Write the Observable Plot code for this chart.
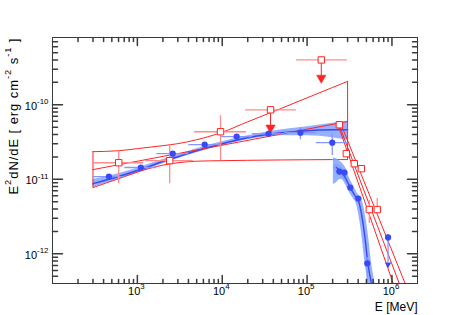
<!DOCTYPE html>
<html><head><meta charset="utf-8">
<script src="https://cdn.jsdelivr.net/npm/d3@7"></script>
<script src="https://cdn.jsdelivr.net/npm/@observablehq/plot@0.6"></script>
<style>html,body{margin:0;padding:0;background:#fff}svg{display:block}</style>
</head><body><div id="chart"></div>
<script>
// ---- Red power-law butterfly (300 MeV - 300 GeV) ----
const bfE = [300, 600, 1000, 2000, 3000, 5000, 1e4, 2e4, 5e4, 1e5, 2e5, 3e5];
const redBfUpper = [2.35e-11, 2.42e-11, 2.58e-11, 2.83e-11, 3.01e-11, 3.40e-11, 4.28e-11, 5.92e-11, 8.98e-11, 1.24e-10, 1.71e-10, 2.06e-10];
const redBfLower = [7.74e-12, 1.02e-11, 1.25e-11, 1.55e-11, 1.67e-11, 1.75e-11, 1.78e-11, 1.80e-11, 1.82e-11, 1.83e-11, 1.84e-11, 1.84e-11];
const redFitE = [300, 3e5];
const redFitF = [1.35e-11, 5.97e-11];
// ---- Blue curved band (same energy range) ----
const blueBfCenter = [8.75e-12, 1.09e-11, 1.31e-11, 1.73e-11, 2.01e-11, 2.42e-11, 3.01e-11, 3.62e-11, 4.22e-11, 4.49e-11, 4.63e-11, 4.63e-11];
const blueBfUpper = [9.91e-12, 1.19e-11, 1.41e-11, 1.84e-11, 2.14e-11, 2.58e-11, 3.20e-11, 3.85e-11, 4.63e-11, 5.07e-11, 5.65e-11, 6.01e-11];
const blueBfLower = [7.74e-12, 9.91e-12, 1.21e-11, 1.62e-11, 1.89e-11, 2.28e-11, 2.83e-11, 3.40e-11, 3.85e-11, 3.85e-11, 3.62e-11, 3.35e-11];
// ---- Red steep high-energy power laws ----
const redHeStartE = [2.27e5, 2.33e5, 2.47e5];
const redHeEndE = [1.035e6, 1.22e6, 1.43e6];
const redHeStartF = 5.74e-11;
const redHeEndF = 4e-13;
// ---- Blue high-energy cutoff curve ----
const blueCutE = [2.21e5, 2.47e5, 2.82e5, 3.23e5, 3.60e5, 4.01e5, 4.47e5, 4.85e5, 5.12e5, 5.41e5, 5.71e5, 5.86e5];
const blueCutF = [1.44e-11, 1.31e-11, 1.05e-11, 7.74e-12, 6.24e-12, 5.19e-12, 2.98e-12, 1.51e-12, 8.67e-13, 5.64e-13, 4.02e-13, 3.04e-13];
const blueHornE = [2.04e5, 2.21e5, 2.47e5, 2.75e5, 3.06e5];
const blueHornUpper = [1.95e-11, 1.89e-11, 1.73e-11, 1.52e-11, 1.23e-11];
const blueHornLower = [8.49e-12, 9.03e-12, 9.91e-12, 9.61e-12, 7.98e-12];
// ---- Blue points (low energy) ----
const latE = [462, 1100, 2610, 6210, 14800, 35100, 83400, 198000];
const latElo = [300, 713, 1694, 4030, 9580, 22760, 54100, 128600];
const latEhi = [713, 1694, 4030, 9580, 22760, 54100, 128600, 305700];
const latF = [1.09e-11, 1.44e-11, 2.21e-11, 2.92e-11, 3.73e-11, 4.09e-11, 4.22e-11, 3.10e-11];
const latFlo = [1.02e-11, 1.35e-11, 2.08e-11, 2.74e-11, 3.51e-11, 3.73e-11, 3.40e-11, 2.08e-11];
const latFhi = [1.16e-11, 1.52e-11, 2.35e-11, 3.10e-11, 3.96e-11, 4.49e-11, 4.92e-11, 4.09e-11];
// ---- Blue points (high energy) ----
const heE = [2.40e5, 2.75e5, 3.23e5, 4.01e5, 5.12e5, 9.0e5];
const heElo = [2.40e5, 2.75e5, 3.23e5, 3.60e5, 5.12e5, 9.0e5];
const heEhi = [2.40e5, 2.75e5, 3.23e5, 4.47e5, 5.12e5, 9.0e5];
const heF = [1.27e-11, 1.23e-11, 7.74e-12, 5.52e-12, 7.43e-13, 1.66e-12];
const heFlo = [1.19e-11, 1.16e-11, 7.28e-12, 5.19e-12, 3.0e-13, 7.67e-13];
const heFhi = [1.35e-11, 1.31e-11, 8.24e-12, 5.86e-12, 8.95e-13, 1.82e-12];
const heUlE = [9.0e5];
const heUlF = [7.21e-13];
// ---- Red squares ----
const redE = [603, 2404, 9550, 2.40e5, 2.90e5, 3.60e5, 4.36e5, 5.41e5, 6.71e5];
const redElo = [306, 1253, 4720, 2.40e5, 2.90e5, 3.60e5, 4.36e5, 5.41e5, 6.71e5];
const redEhi = [1186, 4592, 1.93e4, 2.40e5, 2.90e5, 3.60e5, 4.36e5, 5.41e5, 6.71e5];
const redF = [1.67e-11, 1.78e-11, 4.35e-11, 5.40e-11, 2.21e-11, 1.62e-11, 1.39e-11, 3.93e-12, 3.93e-12];
const redFlo = [8.75e-12, 8.75e-12, 1.78e-11, 4.92e-11, 2.01e-11, 1.48e-11, 1.27e-11, 2.55e-12, 3.58e-12];
const redFhi = [2.42e-11, 2.83e-11, 7.13e-11, 5.92e-11, 2.42e-11, 1.78e-11, 1.52e-11, 5.19e-12, 5.52e-12];
// ---- Red upper limits ----
const ulE = [3.71e4, 1.47e5];
const ulElo = [1.88e4, 7.48e4];
const ulEhi = [7.48e4, 2.98e5];
const ulF = [8.57e-11, 4.00e-10];
const ulTip = [4.22e-11, 1.97e-10];
// ---- Axis ticks ----
const xMajor = [1e3, 1e4, 1e5, 1e6];
const xMinor = [200,300,400,500,600,700,800,900, 2e3,3e3,4e3,5e3,6e3,7e3,8e3,9e3, 2e4,3e4,4e4,5e4,6e4,7e4,8e4,9e4, 2e5,3e5,4e5,5e5,6e5,7e5,8e5,9e5];
const yMajor = [1e-12, 1e-11, 1e-10];
const yMinor = [5e-13,6e-13,7e-13,8e-13,9e-13, 2e-12,3e-12,4e-12,5e-12,6e-12,7e-12,8e-12,9e-12, 2e-11,3e-11,4e-11,5e-11,6e-11,7e-11,8e-11,9e-11, 2e-10,3e-10,4e-10,5e-10,6e-10,7e-10];
const xExp = ["3", "4", "5", "6"];
const yExp = ["-12", "-11", "-10"];

const zip = (xs, ys) => xs.map((x, i) => ({x, y: ys[i]}));
const RED = "#ff2424", PINK = "#ff8c8c", BLUE = "#3849f5", LBLUE = "#8696ff", BAND = "#82a2ff";
const AX = "#3a3a3a";
const tickShape = {draw(ctx, l) { ctx.moveTo(0, 0); ctx.lineTo(0, -l); }};

const redBf = bfE.map((e, i) => ({e, lo: redBfLower[i], hi: redBfUpper[i]}));
const blueBf = bfE.map((e, i) => ({e, lo: blueBfLower[i], hi: blueBfUpper[i], c: blueBfCenter[i]}));
const horn = blueHornE.map((e, i) => ({e, lo: blueHornLower[i], hi: blueHornUpper[i]}));
const lat = latE.map((e, i) => ({e, elo: latElo[i], ehi: latEhi[i], f: latF[i], flo: latFlo[i], fhi: latFhi[i]}));
const he = heE.map((e, i) => ({e, elo: heElo[i], ehi: heEhi[i], f: heF[i], flo: heFlo[i], fhi: heFhi[i]}));
const red = redE.map((e, i) => ({e, elo: redElo[i], ehi: redEhi[i], f: redF[i], flo: redFlo[i], fhi: redFhi[i]}));
const ul = ulE.map((e, i) => ({e, elo: ulElo[i], ehi: ulEhi[i], f: ulF[i], tip: ulTip[i]}));
const redHe = redHeStartE.map((s, i) => [{x: s, y: redHeStartF}, {x: redHeEndE[i], y: redHeEndF}]);

const chart = Plot.plot({
  width: 463, height: 315,
  marginLeft: 52, marginRight: 46, marginTop: 37, marginBottom: 32,
  x: {type: "log", domain: [100, 2e6], axis: null},
  y: {type: "log", domain: [4e-13, 8e-10], axis: null},
  style: {fontFamily: "'Liberation Sans', Arial, Helvetica, sans-serif", background: "#fff", color: "#000"},
  marks: [
    // blue low-energy band
    Plot.areaY(blueBf, {x: "e", y1: "lo", y2: "hi", fill: BAND, fillOpacity: 0.85, curve: "monotone-x"}),
    Plot.line(blueBf, {x: "e", y: "c", stroke: BLUE, strokeWidth: 1.5, curve: "monotone-x"}),
    // red butterfly
    Plot.line(redBf, {x: "e", y: "hi", stroke: RED, strokeWidth: 1, curve: "monotone-x"}),
    Plot.line(redBf, {x: "e", y: "lo", stroke: RED, strokeWidth: 1, curve: "monotone-x"}),
    Plot.ruleX([redBf[0], redBf[redBf.length - 1]], {x: "e", y1: "lo", y2: "hi", stroke: RED, strokeWidth: 1}),
    Plot.line(zip(redFitE, redFitF), {x: "x", y: "y", stroke: RED, strokeWidth: 1}),
    // blue cutoff curve
    Plot.areaY(horn, {x: "e", y1: "lo", y2: "hi", fill: BAND, fillOpacity: 0.85, curve: "monotone-x", clip: true}),
    Plot.line(zip(blueCutE, blueCutF), {x: "x", y: "y", stroke: BAND, strokeOpacity: 0.85, strokeWidth: 6.5, curve: "catmull-rom", clip: true}),
    Plot.line(zip(blueCutE, blueCutF), {x: "x", y: "y", stroke: BLUE, strokeWidth: 1.4, curve: "catmull-rom", clip: true}),
    // red steep lines
    ...redHe.map(seg => Plot.line(seg, {x: "x", y: "y", stroke: RED, strokeWidth: 1, clip: true})),
    // blue error bars
    Plot.ruleY(lat, {y: "f", x1: "elo", x2: "ehi", stroke: LBLUE, strokeWidth: 1.3}),
    Plot.ruleX(lat, {x: "e", y1: "flo", y2: "fhi", stroke: LBLUE, strokeWidth: 1.3}),
    Plot.ruleY(he, {y: "f", x1: "elo", x2: "ehi", stroke: LBLUE, strokeWidth: 1.3}),
    Plot.ruleX(he, {x: "e", y1: "flo", y2: "fhi", stroke: LBLUE, strokeWidth: 1.3, clip: true}),
    // red error bars
    Plot.ruleY(red, {y: "f", x1: "elo", x2: "ehi", stroke: PINK, strokeWidth: 1.3}),
    Plot.ruleX(red, {x: "e", y1: "flo", y2: "fhi", stroke: PINK, strokeWidth: 1.3}),
    Plot.ruleY(ul, {y: "f", x1: "elo", x2: "ehi", stroke: PINK, strokeWidth: 1.3}),
    Plot.ruleX(ul, {x: "e", y1: "tip", y2: "f", stroke: RED, strokeWidth: 1}),
    Plot.dot(ul, {x: "e", y: "tip", symbol: "triangle", rotate: 180, r: 3.5, dy: -5, fill: RED, stroke: RED, strokeWidth: 0.5}),
    // points
    Plot.dot(lat, {x: "e", y: "f", r: 3.1, fill: BLUE}),
    Plot.dot(he, {x: "e", y: "f", r: 3.1, fill: BLUE}),
    Plot.dot(zip(heUlE, heUlF), {x: "x", y: "y", symbol: "triangle", rotate: 180, r: 2.4, fill: BLUE}),
    Plot.dot(red, {x: "e", y: "f", symbol: "square", r: 3.6, fill: "#fff", stroke: RED, strokeWidth: 1}),
    Plot.dot(ul, {x: "e", y: "f", symbol: "square", r: 3.6, fill: "#fff", stroke: RED, strokeWidth: 1}),
    // frame & ticks
    Plot.frame({stroke: AX, strokeWidth: 1}),
    Plot.vector(xMajor, {x: d => d, frameAnchor: "bottom", length: 8, rotate: 0, anchor: "start", shape: tickShape, stroke: AX}),
    Plot.vector(xMinor, {x: d => d, frameAnchor: "bottom", length: 4, rotate: 0, anchor: "start", shape: tickShape, stroke: AX}),
    Plot.vector(xMajor, {x: d => d, frameAnchor: "top", length: 8, rotate: 180, anchor: "start", shape: tickShape, stroke: AX}),
    Plot.vector(xMinor, {x: d => d, frameAnchor: "top", length: 4, rotate: 180, anchor: "start", shape: tickShape, stroke: AX}),
    Plot.vector(yMajor, {y: d => d, frameAnchor: "left", length: 10, rotate: 90, anchor: "start", shape: tickShape, stroke: AX}),
    Plot.vector(yMinor, {y: d => d, frameAnchor: "left", length: 5, rotate: 90, anchor: "start", shape: tickShape, stroke: AX}),
    Plot.vector(yMajor, {y: d => d, frameAnchor: "right", length: 10, rotate: -90, anchor: "start", shape: tickShape, stroke: AX}),
    Plot.vector(yMinor, {y: d => d, frameAnchor: "right", length: 5, rotate: -90, anchor: "start", shape: tickShape, stroke: AX}),
    // tick labels
    Plot.text(xMajor, {x: d => d, frameAnchor: "bottom", text: (d, i) => `10^{${xExp[i]}}`, dy: 11.5, dx: -1, fontSize: 11, textAnchor: "middle", fill: "#000"}),
    Plot.text(yMajor, {y: d => d, frameAnchor: "left", text: (d, i) => `10^{${yExp[i]}}`, dx: -4, dy: 1.5, fontSize: 11, textAnchor: "end", fill: "#000"}),
    // axis titles
    Plot.text(["E [MeV]"], {frameAnchor: "bottom-right", text: d => d, textAnchor: "end", lineAnchor: "bottom", dy: 27, dx: 0, fontSize: 12, fill: "#000"}),
    Plot.text(["E^{2}dN/dE [ erg cm^{-2} s^{-1} ]"], {frameAnchor: "top-left", text: d => d, rotate: -90, textAnchor: "end", lineAnchor: "bottom", dx: -35, dy: 1, fontSize: 13, fill: "#000"})
  ]
});

const NS = "http://www.w3.org/2000/svg";
function supify(t) {
  const s = t.textContent;
  if (!s.includes("^{")) return;
  while (t.firstChild) t.removeChild(t.firstChild);
  const re = /\^\{([^}]*)\}/g;
  let last = 0, m, raised = false;
  const add = (txt, sup) => {
    const sp = document.createElementNS(NS, "tspan");
    sp.textContent = txt;
    if (sup) { sp.setAttribute("font-size", "72%"); sp.setAttribute("dy", "-0.72em"); raised = true; }
    else if (raised) { sp.setAttribute("dy", "0.52em"); raised = false; }
    t.appendChild(sp);
  };
  while ((m = re.exec(s))) {
    if (m.index > last) add(s.slice(last, m.index), false);
    add(m[1], true);
    last = m.index + m[0].length;
  }
  if (last < s.length) add(s.slice(last), false);
}
chart.querySelectorAll("text").forEach(supify);
// stretch the y title the way the original typesetting spaces it
chart.querySelectorAll("text").forEach(t => {
  if (t.textContent.startsWith("E2dN")) { t.setAttribute("textLength", "156"); t.setAttribute("lengthAdjust", "spacing"); }
});
document.getElementById("chart").appendChild(chart);
</script>
</body></html>
